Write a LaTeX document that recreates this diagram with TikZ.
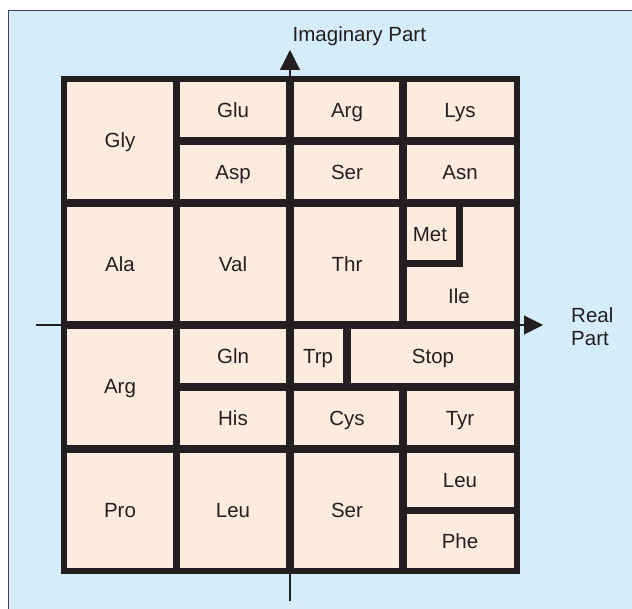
\documentclass[tikz,border=0pt]{standalone}
\usepackage{fontspec}
\setmainfont{Liberation Sans}
\usetikzlibrary{arrows.meta}

\definecolor{panelblue}{RGB}{213,236,250}
\definecolor{cellfill}{RGB}{253,235,222}
\definecolor{ink}{RGB}{35,31,32}
\definecolor{rim}{RGB}{60,66,72}

\begin{document}
\begin{tikzpicture}[x=1pt,y=-1pt,
  lbl/.style={font=\fontsize{20.5}{23.3}\selectfont, text=ink, inner sep=0pt,
              text height=14.7pt, text depth=0pt},
  frame/.style={draw=ink, line width=6pt},
  wall/.style={draw=ink, line width=7.2pt, line cap=butt, line join=miter},
  axis/.style={draw=ink, line width=1.1pt}]

  \useasboundingbox (0,0) rectangle (632,609);

  % panel background, ruled on the left and top
  \fill[panelblue] (8.5,10.5) rectangle (632,609);
  \draw[rim, line width=1pt] (8.5,609) -- (8.5,10.5) -- (632,10.5);

  % grid corners and line positions
  \coordinate (nw) at (64,79.5);
  \coordinate (se) at (516.5,570.5);
  \def\xa{176.5} \def\xb{290} \def\xc{403} \def\xd{516.5}
  \def\ya{141} \def\yb{203} \def\yc{325} \def\yd{387} \def\ye{449}

  % cell area
  \fill[cellfill] (nw) rectangle (se);

  % axes
  \coordinate (reL) at (35.7,325);
  \coordinate (reR) at (543,325);
  \coordinate (imB) at (290,601);
  \coordinate (imT) at (290,50);
  \draw[axis, -{Triangle[length=19pt,width=19pt]}] (reL) -- (reR);
  \draw[axis, -{Triangle[length=20pt,width=20pt]}] (imB) -- (imT);

  % inner walls
  \draw[wall] (\xa,79.5) -- (\xa,570.5);
  \draw[wall] (\xb,79.5) -- (\xb,570.5);
  \draw[wall] (\xc,79.5) -- (\xc,\yc);
  \draw[wall] (\xc,\yd) -- (\xc,570.5);
  \draw[wall] (64,\yb) -- (\xd,\yb);
  \draw[wall] (64,\yc) -- (\xd,\yc);
  \draw[wall] (64,\ye) -- (\xd,\ye);
  \draw[wall] (\xa,\ya) -- (\xd,\ya);
  \draw[wall] (\xa,\yd) -- (\xd,\yd);
  \draw[wall] (\xc,263.5) -- (459.5,263.5) -- (459.5,\yb);
  \draw[wall] (347,\yc) -- (347,\yd);
  \draw[wall] (\xc,510.5) -- (\xd,510.5);

  % outer frame
  \draw[frame] (nw) rectangle (se);

  % codon labels
  \node[lbl] (gly)  at (120,140)   {Gly};
  \node[lbl] (glu)  at (233,110)   {Glu};
  \node[lbl] (arg1) at (347,110)   {Arg};
  \node[lbl] (lys)  at (460,110)   {Lys};
  \node[lbl] (asp)  at (233,172)   {Asp};
  \node[lbl] (ser1) at (347,172)   {Ser};
  \node[lbl] (asn)  at (460,172)   {Asn};
  \node[lbl] (ala)  at (120,264)   {Ala};
  \node[lbl] (val)  at (233,264)   {Val};
  \node[lbl] (thr)  at (347,264)   {Thr};
  \node[lbl] (met)  at (430,234)   {Met};
  \node[lbl] (ile)  at (459,296)   {Ile};
  \node[lbl] (arg2) at (120,386)   {Arg};
  \node[lbl] (gln)  at (233,356)   {Gln};
  \node[lbl] (trp)  at (318,356)   {Trp};
  \node[lbl] (stop) at (433,356)   {Stop};
  \node[lbl] (his)  at (233,418)   {His};
  \node[lbl] (cys)  at (347,418)   {Cys};
  \node[lbl] (tyr)  at (460,418)   {Tyr};
  \node[lbl] (pro)  at (120,510)   {Pro};
  \node[lbl] (leu1) at (233,510)   {Leu};
  \node[lbl] (ser2) at (347,510)   {Ser};
  \node[lbl] (leu2) at (460,480)   {Leu};
  \node[lbl] (phe)  at (460,541)   {Phe};

  % axis titles
  \node[lbl, anchor=base west] (imlabel) at (292.5,41.7) {Imaginary Part};
  \node[lbl, anchor=base west, align=left, text height=, text depth=] (relabel)
    at (571,346) {Real\\Part};
\end{tikzpicture}
\end{document}
